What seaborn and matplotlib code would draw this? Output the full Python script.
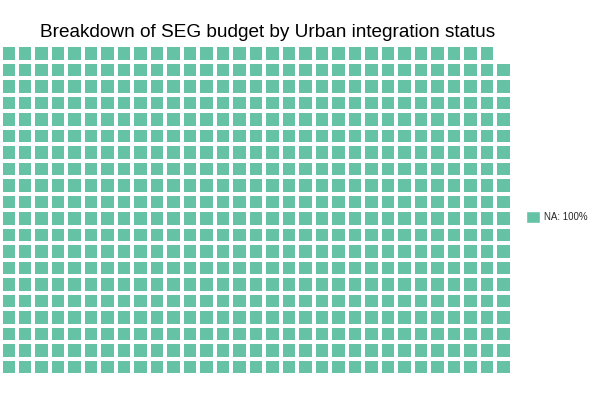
import numpy as np
import pandas as pd
import matplotlib
matplotlib.use("Agg")
import matplotlib.pyplot as plt
from matplotlib.colors import ListedColormap
from matplotlib.patches import Patch
import seaborn as sns

# ---- data ----
categories = ["NA"]
percentages = [100]
square_counts = [619]
colors = ["#66C2A5"]
title = "Breakdown of SEG budget by Urban integration status"
n_rows = 20
n_cols = 31

sns.set_theme(style="white")
plt.rcParams["font.family"] = ["Liberation Sans", "DejaVu Sans"]

# build waffle matrix: fill columns bottom-to-top, left-to-right
grid = np.full((n_rows, n_cols), np.nan)
codes = np.concatenate([np.full(c, i) for i, c in enumerate(square_counts)])
for k, code in enumerate(codes):
    col = k // n_rows
    row = n_rows - 1 - (k % n_rows)
    grid[row, col] = code
df = pd.DataFrame(grid)

fig = plt.figure(figsize=(6, 4), dpi=100)
ax = fig.add_axes([0.5 / 600, 25 / 400, 511 / 600, 330 / 400])
sns.heatmap(df, ax=ax, cmap=ListedColormap(colors), vmin=-0.5, vmax=len(colors) - 0.5,
            mask=df.isna(), cbar=False, linewidths=4 * 72 / 100, linecolor="white",
            xticklabels=False, yticklabels=False)
ax.set_xlabel("")
ax.set_ylabel("")
for s in ax.spines.values():
    s.set_visible(False)

fig.text(268 / 600, 1 - 37 / 400, title, ha="center", va="baseline", fontsize=13.7, color="black")

handles = [Patch(facecolor=c, edgecolor="white", label=f"{cat}: {p}%")
           for c, cat, p in zip(colors, categories, percentages)]
fig.legend(handles=handles, loc="center left", bbox_to_anchor=(517 / 600, 1 - 217 / 400),
           frameon=False, fontsize=7, handlelength=1.45, handleheight=1.45, handletextpad=0.45)

fig.savefig("out.png", dpi=100)
